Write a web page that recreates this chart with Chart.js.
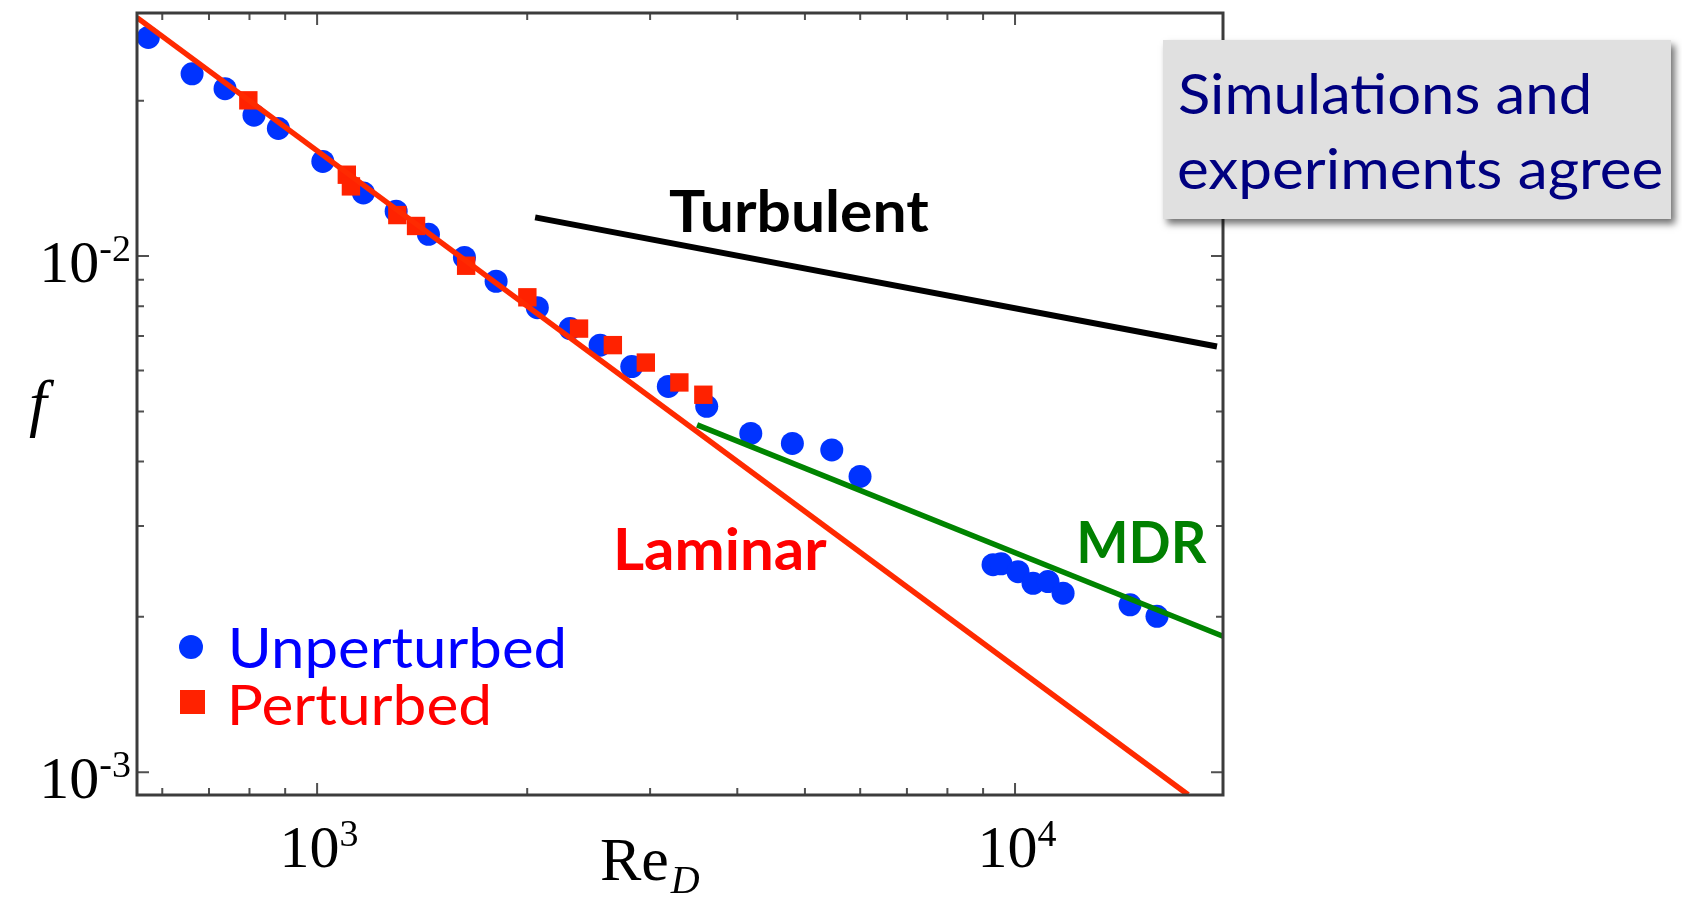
<!DOCTYPE html>
<html>
<head>
<meta charset="utf-8">
<script src="https://cdn.jsdelivr.net/npm/chart.js@4.4.1/dist/chart.umd.min.js"></script>
<style>
  html, body { margin: 0; padding: 0; background: #fff; }
</style>
</head>
<body>
<canvas id="chart" width="1682" height="900"></canvas>
<script>
// Friction factor f against Reynolds number Re_D, log-log

const unperturbedRe = [573, 662, 738, 812, 880, 1019, 1165, 1298, 1444, 1626, 1805, 2068, 2304, 2544, 2824,
    3186, 3616, 4182, 4797, 5463, 5997, 9300, 9550, 10099, 10612, 11149, 11718, 14615, 15974];
const unperturbedF = [0.02653, 0.02256, 0.02111, 0.01876, 0.01768, 0.01526, 0.01326, 0.01222, 0.01102, 0.009942,
    0.008939, 0.007943, 0.007237, 0.006722, 0.006109, 0.005592, 0.005117, 0.004532, 0.004336, 0.004211, 0.003741,
    0.002523, 0.002534, 0.002446, 0.002323, 0.002340, 0.002222, 0.002110, 0.002004];

const perturbedRe = [797, 1103, 1118, 1303, 1386, 1635, 2001, 2373, 2653, 2958, 3304, 3576];
const perturbedF = [0.02004, 0.01438, 0.01365, 0.01201, 0.01144, 0.00958, 0.008321, 0.007237, 0.006722,
    0.006219, 0.005691, 0.005387];

// reference curves (straight in log-log, so two ends each)
const laminarRe = [552, 17700];
const laminarF = [0.02899, 0.000904];
const turbulentRe = [2053, 19470];
const turbulentF = [0.01189, 0.006683];
const mdrRe = [3503, 19860];
const mdrF = [0.00471, 0.001834];

const xRange = [552, 19860];
const yRange = [0.000903, 0.02959];

const xMajorTicks = [1e3, 1e4];
const xMinorTicks = [600, 700, 800, 900, 2000, 3000, 4000, 5000, 6000, 7000, 8000, 9000];
const yMajorTicks = [1e-3, 1e-2];
const yMinorTicks = [0.002, 0.003, 0.004, 0.005, 0.006, 0.007, 0.008, 0.009, 0.02];
const xTickLabels = [['10', '3'], ['10', '4']];
const yTickLabels = [['10', '-3'], ['10', '-2']];

const curveLabels = [
    { text: 'Turbulent', re: 3194, f: 0.01112, color: '#000000', width: 260 },
    { text: 'Laminar', re: 2690, f: 0.002468, color: '#ff0000', width: 210 },
    { text: 'MDR', re: 12390, f: 0.002545, color: '#008000', width: 127 }
];

const BLUE = '#0033ff';
const RED = '#ff2200';
const SERIF = '"Liberation Serif", "Times New Roman", serif';
const SANS = 'Lato, Carlito, Calibri, sans-serif';

function pts(xs, ys) {
    return xs.map((x, i) => ({ x: x, y: ys[i] }));
}

// draw text so its ink starts at x and spans `width` px
function fitText(ctx, text, x, y, font, color, width) {
    ctx.save();
    ctx.font = font;
    ctx.fillStyle = color;
    ctx.textAlign = 'left';
    ctx.textBaseline = 'alphabetic';
    const m = ctx.measureText(text);
    const ink = m.actualBoundingBoxLeft + m.actualBoundingBoxRight;
    const sx = width ? width / ink : 1;
    ctx.translate(x, y);
    ctx.scale(sx, 1);
    ctx.fillText(text, m.actualBoundingBoxLeft, 0);
    ctx.restore();
}

// base + superscript exponent
function powerLabel(ctx, base, exp, x, y, align) {
    ctx.save();
    ctx.fillStyle = '#000';
    ctx.textBaseline = 'alphabetic';
    ctx.textAlign = 'left';
    ctx.font = '60px ' + SERIF;
    const wb = ctx.measureText(base).width;
    ctx.font = '38px ' + SERIF;
    const we = ctx.measureText(exp).width;
    let left = x;
    if (align === 'center') left = x - (wb + we) / 2;
    if (align === 'right') left = x - (wb + we);
    ctx.font = '60px ' + SERIF;
    ctx.fillText(base, left, y);
    ctx.font = '38px ' + SERIF;
    ctx.fillText(exp, left + wb, y - 21);
    ctx.restore();
}

const softMarks = {
    id: 'softMarks',
    beforeDatasetsDraw(chart) {
        chart.ctx.save();
        chart.ctx.filter = 'blur(0.7px)';
    },
    afterDatasetsDraw(chart) {
        chart.ctx.restore();
    }
};

const annotations = {
    id: 'annotations',
    afterDraw(chart) {
        const ctx = chart.ctx;
        const a = chart.chartArea;
        const xs = chart.scales.x;
        const ys = chart.scales.y;

        // inward ticks on all four sides
        ctx.save();
        ctx.strokeStyle = '#505050';
        ctx.lineWidth = 2;
        const xTick = (v, len) => {
            const px = xs.getPixelForValue(v);
            ctx.beginPath();
            ctx.moveTo(px, a.bottom); ctx.lineTo(px, a.bottom - len);
            ctx.moveTo(px, a.top); ctx.lineTo(px, a.top + len);
            ctx.stroke();
        };
        const yTick = (v, len) => {
            const py = ys.getPixelForValue(v);
            ctx.beginPath();
            ctx.moveTo(a.left, py); ctx.lineTo(a.left + len, py);
            ctx.moveTo(a.right, py); ctx.lineTo(a.right - len, py);
            ctx.stroke();
        };
        xMajorTicks.forEach(v => xTick(v, 12));
        xMinorTicks.forEach(v => xTick(v, 7));
        yMajorTicks.forEach(v => yTick(v, 12));
        yMinorTicks.forEach(v => yTick(v, 7));

        // frame
        ctx.strokeStyle = '#3c3c3c';
        ctx.lineWidth = 3;
        ctx.strokeRect(a.left, a.top, a.right - a.left, a.bottom - a.top);
        ctx.restore();

        // tick labels
        xMajorTicks.forEach((v, i) => {
            powerLabel(ctx, xTickLabels[i][0], xTickLabels[i][1], xs.getPixelForValue(v) + 2, a.bottom + 72, 'center');
        });
        yMajorTicks.forEach((v, i) => {
            powerLabel(ctx, yTickLabels[i][0], yTickLabels[i][1], a.left - 6, ys.getPixelForValue(v) + 26, 'right');
        });

        // axis titles
        ctx.save();
        ctx.fillStyle = '#000';
        ctx.textBaseline = 'alphabetic';
        ctx.font = '62px ' + SERIF;
        ctx.textAlign = 'left';
        ctx.fillText('Re', 600, a.bottom + 85);
        const wRe = ctx.measureText('Re').width;
        ctx.font = 'italic 40px ' + SERIF;
        ctx.fillText('D', 600 + wRe + 2, a.bottom + 98);
        ctx.font = 'italic 64px ' + SERIF;
        ctx.textAlign = 'center';
        ctx.fillText('f', 38, 424);
        ctx.restore();

        // curve names
        curveLabels.forEach(l => {
            fitText(ctx, l.text, xs.getPixelForValue(l.re), ys.getPixelForValue(l.f),
                'bold 58px ' + SANS, l.color, l.width);
        });

        // legend inside the plot
        ctx.save();
        ctx.fillStyle = BLUE;
        ctx.beginPath();
        ctx.arc(a.left + 54, 647, 12, 0, Math.PI * 2);
        ctx.fill();
        ctx.fillStyle = RED;
        ctx.fillRect(a.left + 43, 690, 25, 24);
        ctx.restore();
        fitText(ctx, 'Unperturbed', a.left + 95, 668, '57px ' + SANS, '#0000ff', 331);
        fitText(ctx, 'Perturbed', a.left + 95, 725, '57px ' + SANS, '#ff0000', 256);

        // note box
        ctx.save();
        ctx.shadowColor = 'rgba(0, 0, 0, 0.55)';
        ctx.shadowBlur = 7;
        ctx.shadowOffsetX = 4;
        ctx.shadowOffsetY = 5;
        ctx.fillStyle = '#e0e0e0';
        ctx.fillRect(1163, 40, 508, 179);
        ctx.restore();
        fitText(ctx, 'Simulations and', 1179, 114, '57px ' + SANS, '#000080', 409);
        fitText(ctx, 'experiments agree', 1179, 189, '57px ' + SANS, '#000080', 482);
    }
};

new Chart(document.getElementById('chart'), {
    type: 'scatter',
    data: {
        datasets: [
            {
                label: 'Laminar',
                data: pts(laminarRe, laminarF),
                showLine: true,
                borderColor: '#ff2a00',
                borderWidth: 5.5,
                pointRadius: 0
            },
            {
                label: 'Turbulent',
                data: pts(turbulentRe, turbulentF),
                showLine: true,
                borderColor: '#000000',
                borderWidth: 6,
                pointRadius: 0
            },
            {
                label: 'MDR',
                data: pts(mdrRe, mdrF),
                showLine: true,
                borderColor: '#008400',
                borderWidth: 5.5,
                pointRadius: 0
            },
            {
                label: 'Perturbed',
                data: pts(perturbedRe, perturbedF),
                pointStyle: 'rect',
                pointRadius: 13,
                backgroundColor: RED,
                borderWidth: 0
            },
            {
                label: 'Unperturbed',
                data: pts(unperturbedRe, unperturbedF),
                pointStyle: 'circle',
                pointRadius: 11.5,
                backgroundColor: BLUE,
                borderWidth: 0
            }
        ]
    },
    options: {
        responsive: false,
        animation: false,
        devicePixelRatio: 1,
        layout: {
            padding: { left: 137, top: 7, right: 459, bottom: 105 }
        },
        plugins: {
            legend: { display: false },
            tooltip: { enabled: false }
        },
        scales: {
            x: { type: 'logarithmic', min: xRange[0], max: xRange[1], display: false },
            y: { type: 'logarithmic', min: yRange[0], max: yRange[1], display: false }
        }
    },
    plugins: [softMarks, annotations]
});
</script>
</body>
</html>
